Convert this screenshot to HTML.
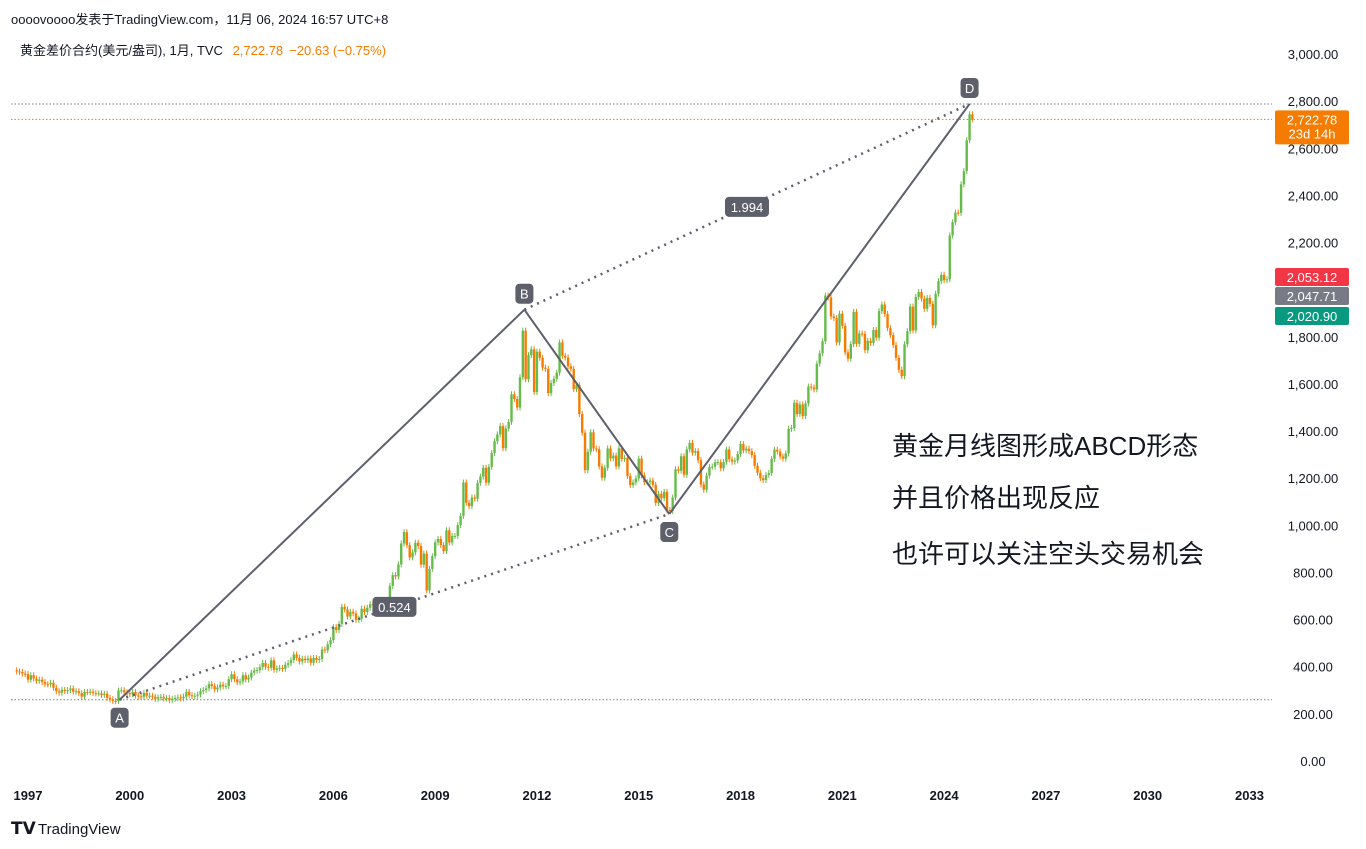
<!DOCTYPE html>
<html><head><meta charset="utf-8">
<style>
body{margin:0;background:#fff;font-family:"Liberation Sans","Noto Sans CJK SC",sans-serif;}
#wrap{position:relative;width:1366px;height:849px;overflow:hidden;}
svg text{font-family:"Liberation Sans","Noto Sans CJK SC",sans-serif;}
</style></head>
<body>
<div id="wrap">
<svg id="chart" width="1366" height="849">
<text x="11" y="24" font-size="13" fill="#131722">oooovoooo发表于TradingView.com，11月 06, 2024 16:57 UTC+8</text>
<text x="20" y="55" font-size="13" fill="#131722">黄金差价合约(美元/盎司), 1月, TVC <tspan fill="#f57c00" dx="6">2,722.78</tspan><tspan fill="#f57c00" dx="6">−20.63 (−0.75%)</tspan></text>
<g id="grid"></g>
<g id="candles"></g>
<g id="pattern"></g>
<g id="yaxis"></g>
<g id="xaxis"></g>
<text x="892" y="455" font-size="26" fill="#131722">黄金月线图形成ABCD形态</text>
<text x="892" y="507" font-size="26" fill="#131722">并且价格出现反应</text>
<text x="892" y="563" font-size="26" fill="#131722">也许可以关注空头交易机会</text>
<g>
<text x="11" y="834" font-size="17" font-weight="bold" fill="#131722">𝗧𝗩</text>
<text x="38" y="834" font-size="15" fill="#131722">TradingView</text>
</g>
</svg>
</div>
<script>
const startYear=1996, startMonth=7;
const closes=[385,380,378,371,369,
345,364,350,340,345,335,326,325,332,311,296,290,
302,297,301,308,294,296,288,273,293,292,294,288,
287,287,280,286,268,262,255,254,299,300,291,288,
283,293,278,274,272,289,277,277,273,264,270,272,
265,267,258,264,267,270,266,273,293,279,275,277,
282,296,301,308,326,318,304,312,324,317,318,347,
368,347,334,337,364,346,354,375,384,386,398,416,
400,396,427,387,393,395,391,408,415,428,452,438,
422,434,428,435,417,437,429,433,473,470,495,513,
568,556,582,654,643,613,633,626,599,604,646,632,
650,665,663,679,659,650,666,673,743,789,783,834,
923,971,916,864,885,926,912,833,880,724,815,869,
927,942,916,891,979,927,955,955,1001,1040,1182,1096,
1081,1118,1113,1180,1207,1244,1181,1248,1307,1357,1386,1421,
1327,1411,1439,1556,1536,1500,1628,1826,1620,1722,1747,1566,
1737,1711,1669,1664,1561,1604,1622,1648,1776,1719,1712,1675,
1664,1578,1595,1472,1393,1234,1312,1395,1326,1323,1250,1202,
1244,1326,1284,1296,1250,1327,1282,1286,1209,1171,1182,1199,
1283,1212,1183,1183,1190,1172,1095,1134,1115,1142,1065,1061,
1118,1238,1232,1293,1215,1322,1350,1308,1315,1276,1173,1151,
1211,1248,1249,1268,1268,1242,1269,1322,1280,1270,1275,1303,
1345,1318,1325,1315,1298,1253,1223,1200,1192,1214,1222,1282,
1321,1313,1292,1283,1305,1409,1413,1520,1472,1513,1464,1517,
1589,1585,1577,1686,1730,1781,1975,1967,1886,1879,1776,1898,
1847,1734,1707,1769,1906,1770,1814,1813,1743,1783,1774,1829,
1796,1909,1937,1897,1837,1807,1765,1711,1660,1633,1768,1824,
1928,1827,1969,1990,1962,1919,1965,1940,1849,1983,2036,2063,
2040,2044,2230,2286,2327,2326,2447,2503,2634,2744,2723];
const yTicks=[0,200,400,600,800,1000,1200,1400,1600,1800,2200,2400,2600,2800,3000];
const xTicks=[1997,2000,2003,2006,2009,2012,2015,2018,2021,2024,2027,2030,2033];
const patternNames=["A","B","C","D"];
const patternTimes=[1999.7,2011.63,2015.9,2024.75];
const patternValues=[260,1915,1048,2788];
const ratioLabels=["0.524","1.994"];
const lastPrice=2722.78;
const tags=[{v:2053.12,t:"2,053.12",c:"#f23645"},{v:2047.71,t:"2,047.71",c:"#787b86"},{v:2020.90,t:"2,020.90",c:"#089981"}];

const NS="http://www.w3.org/2000/svg";
const yOf=v=>761-v*0.23567;
const xOf=t=>28+(t-1997)*33.93;
function mk(tag,attrs,parent){const e=document.createElementNS(NS,tag);for(const k in attrs)e.setAttribute(k,attrs[k]);parent.appendChild(e);return e;}

const ya=document.getElementById('yaxis');
yTicks.forEach(v=>{
 const t=mk('text',{x:1313,y:yOf(v)+5,'font-size':13,fill:'#131722','text-anchor':'middle'},ya);
 t.textContent=v.toFixed(2).replace(/\B(?=(\d{3})+(?!\d))/,',');
 
 
});
const xa=document.getElementById('xaxis');
xTicks.forEach(y=>{
 const t=mk('text',{x:xOf(y),y:800,'font-size':13,'font-weight':'bold',fill:'#131722','text-anchor':'middle'},xa);
 t.textContent=y;
 
 
});

const g=document.getElementById('grid');
const hl=[[patternValues[3],'#787b86'],[patternValues[0],'#787b86'],[lastPrice,'#f57c00']];
hl.forEach(h=>{
 const l=mk('line',{x1:11,x2:1272,y1:yOf(h[0]),y2:yOf(h[0]),stroke:h[1],'stroke-width':1,'stroke-dasharray':'1.5 2'},g);
 
 
});

const cg=document.getElementById('candles');
for(let i=1;i<closes.length;i++){
 const m=startMonth+i;
 const t=startYear+m/12;
 const o=closes[i-1],c=closes[i];
 const up=c>=o, col=up?'#66bb4a':'#f57c00';
 const x=xOf(t);
 const top=yOf(Math.max(o,c)),bot=yOf(Math.min(o,c));
 const w=mk('line',{x1:x,x2:x,y1:top-3,y2:bot+3,stroke:col,'stroke-width':1},cg);
 
 
 const r=mk('rect',{x:x-1.2,y:top,width:2.4,height:Math.max(1,bot-top),fill:col},cg);
 
 
}

const pg=document.getElementById('pattern');
const P=patternTimes.map((t,i)=>[xOf(t),yOf(patternValues[i])]);
for(let i=0;i<3;i++){
 const l=mk('line',{x1:P[i][0],y1:P[i][1],x2:P[i+1][0],y2:P[i+1][1],stroke:'#5d606b','stroke-width':2},pg);
 
 
}
[[0,2],[1,3]].forEach((pr,k)=>{
 const a=P[pr[0]],b=P[pr[1]];
 const l=mk('line',{x1:a[0],y1:a[1],x2:b[0],y2:b[1],stroke:'#5d606b','stroke-width':2.5,'stroke-dasharray':'2 5'},pg);
 
 
 const mx=(a[0]+b[0])/2, my=(a[1]+b[1])/2;
 const bx=mk('rect',{x:mx-22,y:my-10,width:44,height:20,rx:4,fill:'#5d606b'},pg);
 
 
 const tx=mk('text',{x:mx,y:my+5,'font-size':13,fill:'#fff','text-anchor':'middle'},pg);
 tx.textContent=ratioLabels[k];
 
 
});
P.forEach((p,i)=>{
 const below=(i%2===0);
 const cy=below?p[1]+18:p[1]-16;
 const bx=mk('rect',{x:p[0]-9,y:cy-10,width:18,height:20,rx:4,fill:'#5d606b'},pg);
 
 
 const tx=mk('text',{x:p[0],y:cy+5,'font-size':13,fill:'#fff','text-anchor':'middle'},pg);
 tx.textContent=patternNames[i];
 
 
});

const lpY=yOf(lastPrice);
const lb=mk('rect',{x:1275,y:lpY-9,width:74,height:34,rx:2,fill:'#f57c00'},ya);


const lt=mk('text',{x:1312,y:lpY+5,'font-size':13,fill:'#fff','text-anchor':'middle'},ya);
lt.textContent="2,722.78";


const lt2=mk('text',{x:1312,y:lpY+19,'font-size':13,fill:'#fff','text-anchor':'middle'},ya);
lt2.textContent="23d 14h";


const tagYs=[277,296,316];
tags.forEach((tg,i)=>{
 const r=mk('rect',{x:1275,y:tagYs[i]-9,width:74,height:18,rx:2,fill:tg.c},ya);
 
 
 const t=mk('text',{x:1312,y:tagYs[i]+5,'font-size':13,fill:'#fff','text-anchor':'middle'},ya);
 t.textContent=tg.t;
 
 
});
</script>
</body></html>
